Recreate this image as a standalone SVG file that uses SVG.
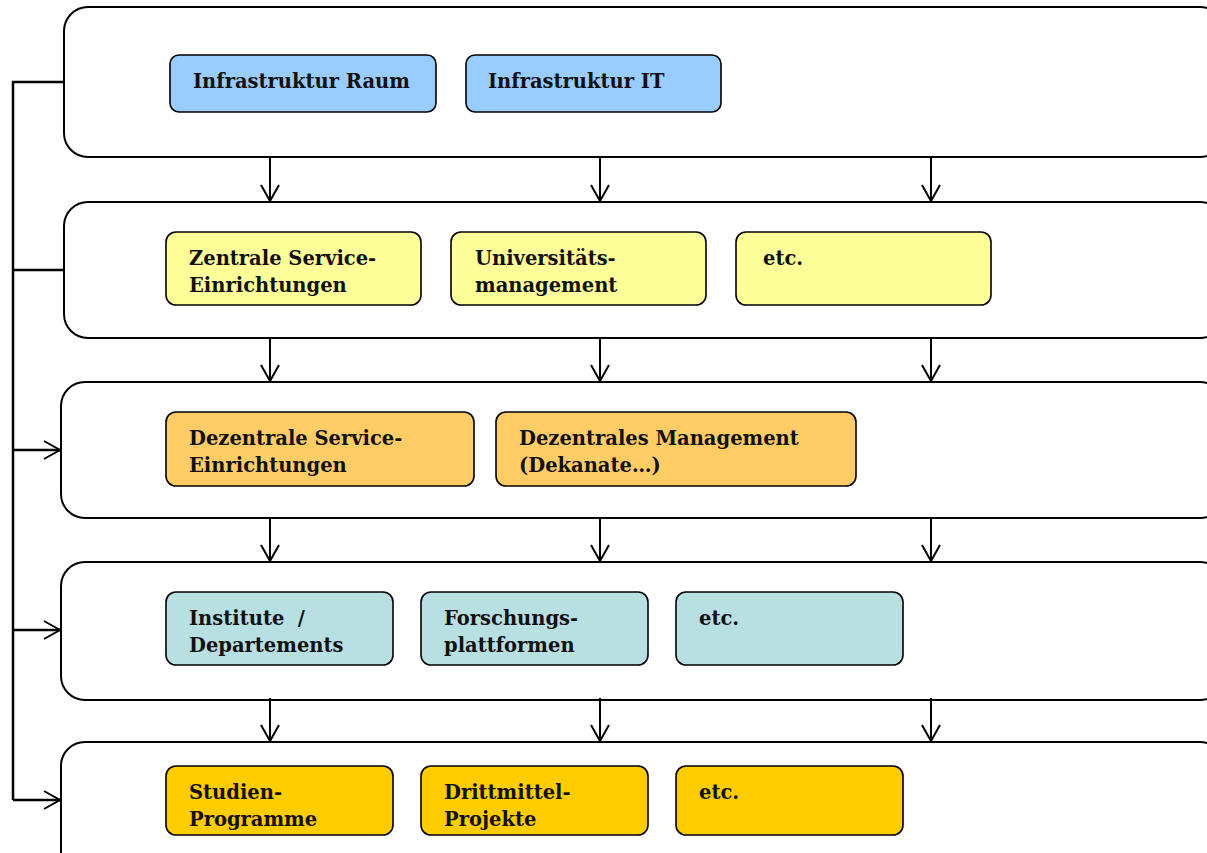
<svg xmlns="http://www.w3.org/2000/svg" width="1207" height="853" viewBox="0 0 1207 853">
<defs>
<marker id="ah" viewBox="0 0 20 20" refX="18" refY="10" markerWidth="20" markerHeight="20" markerUnits="userSpaceOnUse" orient="auto">
<path d="M2,1 L18,10 L2,19" fill="none" stroke="#000" stroke-width="2"/>
</marker>
<style>
.cont{fill:#fff;stroke:#000;stroke-width:2}
.box{stroke:#000;stroke-width:1.6}
.blue{fill:#99CCFF}
.yel{fill:#FFFF99}
.ora{fill:#FFCC66}
.tea{fill:#B8DFE2}
.gold{fill:#FFCC00}
text{font-family:"DejaVu Serif","Liberation Serif",serif;font-weight:bold;font-size:19.5px;fill:#111}
.ln{stroke:#000;stroke-width:2;fill:none}
.bus{stroke:#000;stroke-width:2.5;fill:none}
</style>
</defs>
<rect width="1207" height="853" fill="#fff"/>
<g id="layer1"><rect class="cont" x="64" y="7" width="1160" height="150" rx="24"/></g>
<g id="layer2"><rect class="cont" x="64" y="202" width="1160" height="136" rx="24"/></g>
<g id="layer3"><rect class="cont" x="61" y="382" width="1163" height="136" rx="24"/></g>
<g id="layer4"><rect class="cont" x="61" y="562" width="1163" height="138" rx="24"/></g>
<g id="layer5"><rect class="cont" x="61" y="742" width="1163" height="140" rx="24"/></g>
<g id="connectors">
<path class="bus" d="M13,800 V82 H64 M13,270 H64"/>
<path class="bus" d="M13,450 H60" marker-end="url(#ah)"/>
<path class="bus" d="M13,630 H60" marker-end="url(#ah)"/>
<path class="bus" d="M13,800 H60" marker-end="url(#ah)"/>
<path class="ln" d="M270,157 V201" marker-end="url(#ah)"/>
<path class="ln" d="M600,157 V201" marker-end="url(#ah)"/>
<path class="ln" d="M931,157 V201" marker-end="url(#ah)"/>
<path class="ln" d="M270,338 V381" marker-end="url(#ah)"/>
<path class="ln" d="M600,338 V381" marker-end="url(#ah)"/>
<path class="ln" d="M931,338 V381" marker-end="url(#ah)"/>
<path class="ln" d="M270,518 V561" marker-end="url(#ah)"/>
<path class="ln" d="M600,518 V561" marker-end="url(#ah)"/>
<path class="ln" d="M931,518 V561" marker-end="url(#ah)"/>
<path class="ln" d="M270,698 V741" marker-end="url(#ah)"/>
<path class="ln" d="M600,698 V741" marker-end="url(#ah)"/>
<path class="ln" d="M931,698 V741" marker-end="url(#ah)"/>
</g>
<g id="n-raum"><rect class="box blue" x="170" y="55" width="266" height="57" rx="9"/><text x="193" y="88">Infrastruktur Raum</text></g>
<g id="n-it"><rect class="box blue" x="466" y="55" width="255" height="57" rx="9"/><text x="488" y="88">Infrastruktur IT</text></g>
<g id="n-zse"><rect class="box yel" x="166" y="232" width="255" height="73" rx="10"/><text x="189" y="265">Zentrale Service-</text><text x="189" y="292">Einrichtungen</text></g>
<g id="n-um"><rect class="box yel" x="451" y="232" width="255" height="73" rx="10"/><text x="475" y="265">Universitäts-</text><text x="475" y="292">management</text></g>
<g id="n-etc2"><rect class="box yel" x="736" y="232" width="255" height="73" rx="10"/><text x="763" y="265">etc.</text></g>
<g id="n-dse"><rect class="box ora" x="166" y="412" width="308" height="74" rx="10"/><text x="189" y="445">Dezentrale Service-</text><text x="189" y="472">Einrichtungen</text></g>
<g id="n-dm"><rect class="box ora" x="496" y="412" width="360" height="74" rx="10"/><text x="519" y="445">Dezentrales Management</text><text x="519" y="472">(Dekanate…)</text></g>
<g id="n-inst"><rect class="box tea" x="166" y="592" width="227" height="73" rx="10"/><text x="189" y="625" xml:space="preserve">Institute  /</text><text x="189" y="652">Departements</text></g>
<g id="n-fp"><rect class="box tea" x="421" y="592" width="227" height="73" rx="10"/><text x="444" y="625">Forschungs-</text><text x="444" y="652">plattformen</text></g>
<g id="n-etc4"><rect class="box tea" x="676" y="592" width="227" height="73" rx="10"/><text x="699" y="625">etc.</text></g>
<g id="n-sp"><rect class="box gold" x="166" y="766" width="227" height="69" rx="10"/><text x="189" y="799">Studien-</text><text x="189" y="826">Programme</text></g>
<g id="n-dp"><rect class="box gold" x="421" y="766" width="227" height="69" rx="10"/><text x="444" y="799">Drittmittel-</text><text x="444" y="826">Projekte</text></g>
<g id="n-etc5"><rect class="box gold" x="676" y="766" width="227" height="69" rx="10"/><text x="699" y="799">etc.</text></g>
</svg>
